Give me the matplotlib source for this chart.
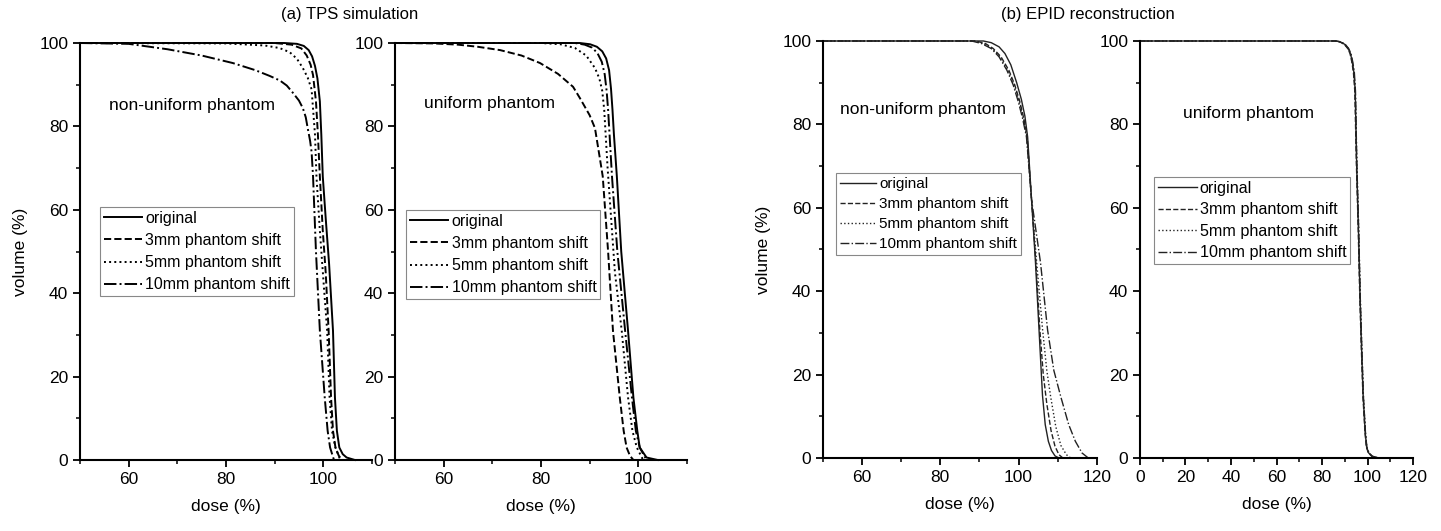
import matplotlib
matplotlib.use("Agg")
import matplotlib.pyplot as plt
from matplotlib.ticker import MultipleLocator

plt.rcParams['font.family'] = ['Liberation Sans', 'DejaVu Sans']

labels = ['original', '3mm phantom shift', '5mm phantom shift', '10mm phantom shift']
styles = ['-', '--', ':', '-.']

# (a) TPS simulation, non-uniform phantom
dose_a_nu_orig = [50, 92, 94.6, 96.0, 97.0, 97.7, 98.3, 98.8, 99.3, 99.6, 99.9, 100.5, 101.2, 102, 102.4, 102.8, 103.3, 104.0, 104.8, 106.5]
vol_a_nu_orig = [100, 100, 99.8, 99.3, 98.3, 96.8, 94.5, 91.5, 86, 78, 68, 58, 47, 31, 15, 7, 3, 1.4, 0.6, 0]
dose_a_nu_3mm = [50, 90, 93.5, 95.5, 96.6, 97.4, 97.9, 98.5, 98.9, 99.3, 99.9, 100.5, 101.1, 101.6, 102.0, 102.5, 103.2, 104]
vol_a_nu_3mm = [100, 100, 99.6, 98.7, 97, 94.8, 92.3, 86, 78, 68, 55, 45, 31, 15, 7, 3, 1, 0]
dose_a_nu_5mm = [50, 80, 88, 91, 93.1, 94.6, 95.8, 96.8, 97.6, 98.3, 98.6, 99.3, 100.1, 100.8, 101.3, 101.8, 102.5, 103.5]
vol_a_nu_5mm = [100, 99.9, 99.4, 98.8, 97.8, 96.2, 94, 91.7, 88.9, 78, 68, 55, 42, 31, 15, 7, 3, 0]
dose_a_nu_10mm = [50, 60, 68, 75, 81.4, 86, 89, 91.1, 92.5, 93.8, 95.0, 95.8, 96.4, 96.8, 97.3, 97.6, 97.9, 98.5, 99.3, 100.3, 100.9, 101.4, 102.2]
vol_a_nu_10mm = [100, 99.8, 98.5, 97, 95.2, 93.5, 92.1, 91.0, 89.8, 88, 86.2, 84.4, 82.2, 79.6, 76.5, 73.9, 68, 50, 31, 15, 7, 3, 0]

# (a) TPS simulation, uniform phantom
dose_a_u_orig = [50, 88, 90.1, 91.5, 92.6, 93.4, 94.0, 94.4, 94.7, 95.0, 95.6, 96.5, 97.9, 99, 99.8, 100.3, 101.7, 104]
vol_a_u_orig = [100, 100, 99.7, 99.1, 98, 96.3, 93.5, 89, 84, 78, 68, 50, 31, 15, 7, 3, 0.6, 0]
dose_a_u_3mm = [50, 58, 63, 67, 71.6, 76, 79.8, 83.5, 86.6, 88, 90, 91.1, 91.6, 92.1, 92.7, 93.8, 94.8, 96.2, 97.0, 97.6, 98.3, 99]
vol_a_u_3mm = [100, 99.9, 99.6, 99.1, 98.3, 97, 95.2, 92.6, 89.5, 86.8, 82.7, 79.6, 76, 72.4, 68, 50, 31, 15, 7, 3, 1, 0]
dose_a_u_5mm = [50, 80, 84, 87, 89.3, 91.1, 92.0, 92.6, 93.0, 93.3, 93.7, 94.3, 95.2, 96.6, 97.9, 98.8, 99.7, 101]
vol_a_u_5mm = [100, 100, 99.7, 98.8, 97, 94, 91.5, 88.5, 84, 78, 70, 60, 45, 31, 15, 7, 3, 0]
dose_a_u_10mm = [50, 87, 89, 90.5, 91.6, 92.5, 93.1, 93.5, 93.8, 94.6, 95.7, 97.3, 98.7, 99.5, 100.3, 101.7]
vol_a_u_10mm = [100, 100, 99.6, 98.9, 97.6, 95.5, 92.5, 88.5, 84, 68, 50, 31, 15, 7, 3, 0]

# (b) EPID reconstruction, non-uniform phantom
dose_b_nu_orig = [50, 91, 93, 95, 96.5, 98, 99.5, 100.7, 101.6, 102.3, 103.3, 104.3, 105.2, 106.1, 106.8, 107.6, 108.4, 109.3, 110.3]
vol_b_nu_orig = [100, 100, 99.6, 98.6, 97, 94.3, 90, 86, 82, 77, 62, 47, 31, 15, 8, 4, 1.8, 0.5, 0]
dose_b_nu_3mm = [50, 89, 91.5, 93.5, 95.5, 97.5, 99, 100.3, 101.3, 102.2, 103.3, 104.4, 105.4, 106.3, 107.2, 108.3, 109.3, 110.3, 111.3]
vol_b_nu_3mm = [100, 100, 99.4, 98.2, 96.2, 93, 89.5, 85.5, 81.5, 77, 62, 47, 31, 20, 13, 6.5, 2.8, 0.8, 0]
dose_b_nu_5mm = [50, 88.5, 91, 93.2, 95.2, 97.2, 98.8, 100.1, 101.2, 102.1, 103.3, 104.6, 106.1, 107.2, 108.2, 109.5, 110.8, 112.2, 113.3]
vol_b_nu_5mm = [100, 100, 99.4, 98.2, 96.2, 93, 89.5, 85.5, 81.5, 77, 62, 47, 31, 21, 14.6, 7.5, 3, 0.8, 0]
dose_b_nu_10mm = [50, 88, 90.5, 93, 95, 97, 98.6, 99.9, 101.0, 102.0, 103.3, 105.6, 107.4, 109, 110.8, 112.8, 114.5, 116.2, 117.8]
vol_b_nu_10mm = [100, 100, 99.4, 98.2, 96.2, 93, 89.5, 85.5, 81.5, 77, 62, 46.8, 30.7, 21, 14.6, 8, 4, 1.2, 0]

# (b) EPID reconstruction, uniform phantom
vol_b_u = [100, 100, 99.8, 99.2, 98.2, 97, 95, 92.5, 88, 70.7, 55, 38.6, 26, 14.6, 6, 2.6, 1.2, 0.4, 0]
dose_b_u_orig = [0, 86, 88, 90, 91.5, 92.5, 93.3, 94.0, 94.6, 95.2, 96.0, 96.7, 97.4, 98.1, 99.0, 99.6, 100.5, 102, 104.6]
dose_b_u_3mm = [0, 85.8, 87.8, 89.8, 91.3, 92.3, 93.1, 93.8, 94.4, 95.1, 95.9, 96.6, 97.3, 98.0, 98.9, 99.5, 100.4, 101.9, 104.4]
dose_b_u_5mm = [0, 86, 88, 90, 91.5, 92.5, 93.3, 94.0, 94.6, 95.3, 96.1, 96.8, 97.5, 98.2, 99.1, 99.7, 100.6, 102.1, 104.8]
dose_b_u_10mm = [0, 86.2, 88.2, 90.2, 91.7, 92.7, 93.5, 94.2, 94.7, 95.3, 96.1, 96.8, 97.5, 98.2, 99.1, 99.7, 100.6, 102.2, 104.9]

fig = plt.figure(figsize=(14.41, 5.31), dpi=100)

ax1 = fig.add_axes([0.0555, 0.1337, 0.2026, 0.7853])
ax2 = fig.add_axes([0.2741, 0.1337, 0.2026, 0.7853])
ax3 = fig.add_axes([0.5711, 0.1375, 0.1901, 0.7853])
ax4 = fig.add_axes([0.7911, 0.1375, 0.1895, 0.7853])

panels = [
    (ax1, [(dose_a_nu_orig, vol_a_nu_orig), (dose_a_nu_3mm, vol_a_nu_3mm),
           (dose_a_nu_5mm, vol_a_nu_5mm), (dose_a_nu_10mm, vol_a_nu_10mm)],
     (50, 110), 'non-uniform phantom', (0.10, 0.85), (0.068, 0.607), 1.4, 'black', 11.5, 0.45),
    (ax2, [(dose_a_u_orig, vol_a_u_orig), (dose_a_u_3mm, vol_a_u_3mm),
           (dose_a_u_5mm, vol_a_u_5mm), (dose_a_u_10mm, vol_a_u_10mm)],
     (50, 110), 'uniform phantom', (0.10, 0.856), (0.038, 0.60), 1.4, 'black', 11.5, 0.45),
    (ax3, [(dose_b_nu_orig, vol_b_nu_orig), (dose_b_nu_3mm, vol_b_nu_3mm),
           (dose_b_nu_5mm, vol_b_nu_5mm), (dose_b_nu_10mm, vol_b_nu_10mm)],
     (50, 120), 'non-uniform phantom', (0.062, 0.835), (0.047, 0.683), 1.0, '#222222', 11, 0.4),
    (ax4, [(dose_b_u_orig, vol_b_u), (dose_b_u_3mm, vol_b_u),
           (dose_b_u_5mm, vol_b_u), (dose_b_u_10mm, vol_b_u)],
     (0, 120), 'uniform phantom', (0.157, 0.827), (0.051, 0.674), 1.0, '#222222', 11.6, 0.4),
]

for ax, curves, xlim, name, tpos, lpos, lw, col, lfs, lsp in panels:
    for (d, v), ls, lab in zip(curves, styles, labels):
        ax.plot(d, v, ls, color=col, lw=lw, label=lab, clip_on=False)
    ax.set_xlim(*xlim)
    ax.set_ylim(0, 100)
    ax.xaxis.set_major_locator(MultipleLocator(20))
    ax.xaxis.set_minor_locator(MultipleLocator(10))
    ax.yaxis.set_major_locator(MultipleLocator(20))
    ax.yaxis.set_minor_locator(MultipleLocator(10))
    ax.spines['top'].set_visible(False)
    ax.spines['right'].set_visible(False)
    ax.spines['left'].set_linewidth(1.5)
    ax.spines['bottom'].set_linewidth(1.5)
    ax.tick_params(which='major', direction='out', length=5, width=1.3, labelsize=12.5)
    ax.tick_params(which='minor', direction='out', length=3, width=1.1)
    ax.set_xlabel('dose (%)', fontsize=12.5, labelpad=9)
    ax.text(tpos[0], tpos[1], name, transform=ax.transAxes, fontsize=12.5, va='center', ha='left')
    leg = ax.legend(loc='upper left', bbox_to_anchor=lpos, borderaxespad=0, fontsize=lfs,
                    handlelength=2.4, handletextpad=0.2, borderpad=0.25, labelspacing=lsp,
                    fancybox=False, framealpha=1, edgecolor='#888888')
    leg.get_frame().set_linewidth(0.8)

ax1.set_xticks([60, 80, 100])
ax2.set_xticks([60, 80, 100])
ax1.set_ylabel('volume (%)', fontsize=12.5, labelpad=8)
ax3.set_ylabel('volume (%)', fontsize=12.5, labelpad=8)

fig.text(350 / 1441, 1 - 15 / 531, '(a) TPS simulation', ha='center', va='center', fontsize=12)
fig.text(1088 / 1441, 1 - 15 / 531, '(b) EPID reconstruction', ha='center', va='center', fontsize=12)

fig.savefig('out.png', dpi=100)
